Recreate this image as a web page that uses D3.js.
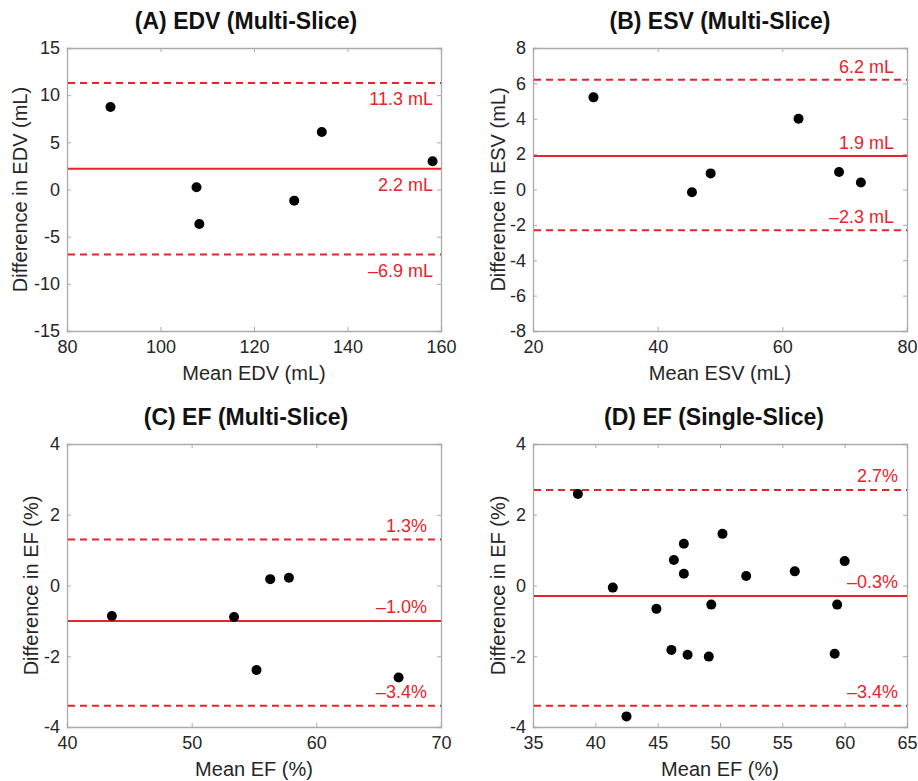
<!DOCTYPE html>
<html lang="en">
	<head>
		<meta charset="utf-8">
		<title>Bland-Altman plots</title>
		<script type="text/javascript" src="https://cdn.jsdelivr.net/npm/d3@7/dist/d3.min.js"></script>
		<style type="text/css">
			body { margin: 0; background: #fff; }
			text { font-family: "Liberation Sans", Arial, sans-serif; }
		</style>
	</head>
	<body>
		<script type="text/javascript">

			// panel A - EDV multi-slice
			var edvMean = [89.3, 107.7, 108.3, 128.6, 134.5, 158.2];
			var edvDiff = [8.75, 0.23, -3.66, -1.18, 6.1, 3.0];
			var edvLines = [11.3, 2.2, -6.9];
			var edvLabels = ["11.3 mL", "2.2 mL", "\u20136.9 mL"];
			var edvXTicks = [80, 100, 120, 140, 160];
			var edvYTicks = [-15, -10, -5, 0, 5, 10, 15];

			// panel B - ESV multi-slice
			var esvMean = [29.7, 45.5, 48.5, 62.6, 69.1, 72.6];
			var esvDiff = [5.21, -0.16, 0.91, 4.0, 0.99, 0.4];
			var esvLines = [6.2, 1.9, -2.3];
			var esvLabels = ["6.2 mL", "1.9 mL", "\u20132.3 mL"];
			var esvXTicks = [20, 40, 60, 80];
			var esvYTicks = [-8, -6, -4, -2, 0, 2, 4, 6, 8];

			// panel C - EF multi-slice
			var efmMean = [43.6, 53.4, 55.2, 56.3, 57.8, 66.6];
			var efmDiff = [-0.86, -0.89, -2.39, 0.18, 0.22, -2.6];
			var efmLines = [1.3, -1.0, -3.4];
			var efmLabels = ["1.3%", "\u20131.0%", "\u20133.4%"];
			var efmXTicks = [40, 50, 60, 70];
			var efmYTicks = [-4, -2, 0, 2, 4];

			// panel D - EF single-slice
			var efsMean = [38.6, 41.4, 42.5, 44.9, 46.1, 46.3, 47.1, 47.1, 47.4, 49.1, 49.3, 50.2, 52.1, 56.0, 59.2, 59.4, 60.0];
			var efsDiff = [2.59, -0.06, -3.7, -0.66, -1.82, 0.72, 1.18, 0.33, -1.96, -2.01, -0.54, 1.46, 0.27, 0.40, -1.93, -0.54, 0.69];
			var efsLines = [2.7, -0.3, -3.4];
			var efsLabels = ["2.7%", "\u20130.3%", "\u20133.4%"];
			var efsXTicks = [35, 40, 45, 50, 55, 60, 65];
			var efsYTicks = [-4, -2, 0, 2, 4];

			var w = 918;
			var h = 781;
			var red = "#e8232b";

			var svg = d3.select("body")
						.append("svg")
						.attr("width", w)
						.attr("height", h);

			var panels = [
				{title: "(A) EDV (Multi-Slice)", xl: "Mean EDV (mL)", yl: "Difference in EDV (mL)",
				 x: edvMean, y: edvDiff, lines: edvLines, labels: edvLabels, xt: edvXTicks, yt: edvYTicks,
				 x0: 67, x1: 441, y0: 48, y1: 331, tx: 246, ylOff: 40, labDy: 22, labR: 8},
				{title: "(B) ESV (Multi-Slice)", xl: "Mean ESV (mL)", yl: "Difference in ESV (mL)",
				 x: esvMean, y: esvDiff, lines: esvLines, labels: esvLabels, xt: esvXTicks, yt: esvYTicks,
				 x0: 533, x1: 907, y0: 48, y1: 331, tx: 720, ylOff: 28, labDy: -7, labR: 13},
				{title: "(C) EF (Multi-Slice)", xl: "Mean EF (%)", yl: "Difference in EF (%)",
				 x: efmMean, y: efmDiff, lines: efmLines, labels: efmLabels, xt: efmXTicks, yt: efmYTicks,
				 x0: 67, x1: 441, y0: 444, y1: 727, tx: 246, ylOff: 29, labDy: -8, labR: 14},
				{title: "(D) EF (Single-Slice)", xl: "Mean EF (%)", yl: "Difference in EF (%)",
				 x: efsMean, y: efsDiff, lines: efsLines, labels: efsLabels, xt: efsXTicks, yt: efsYTicks,
				 x0: 533, x1: 907, y0: 444, y1: 727, tx: 714, ylOff: 28, labDy: -8, labR: 9}
			];

			panels.forEach(function(p) {
				var xs = d3.scaleLinear()
						   .domain(d3.extent(p.xt))
						   .range([p.x0, p.x1]);
				var ys = d3.scaleLinear()
						   .domain(d3.extent(p.yt))
						   .range([p.y1, p.y0]);

				var g = svg.append("g");

				// inward ticks on all four sides, MATLAB style
				var tickLen = 4;
				g.append("g")
				 .attr("transform", "translate(0," + p.y1 + ")")
				 .call(d3.axisBottom(xs).tickValues(p.xt).tickSize(-tickLen).tickPadding(9).tickFormat(d3.format("d")))
				 .call(styleAxis);
				g.append("g")
				 .attr("transform", "translate(0," + p.y0 + ")")
				 .call(d3.axisTop(xs).tickValues(p.xt).tickSize(-tickLen).tickFormat(""))
				 .call(styleAxis);
				g.append("g")
				 .attr("transform", "translate(" + p.x0 + ",0)")
				 .call(d3.axisLeft(ys).tickValues(p.yt).tickSize(-tickLen).tickPadding(7).tickFormat(d3.format("d")))
				 .call(styleAxis);
				g.append("g")
				 .attr("transform", "translate(" + p.x1 + ",0)")
				 .call(d3.axisRight(ys).tickValues(p.yt).tickSize(-tickLen).tickFormat(""))
				 .call(styleAxis);

				// hyphen minus like the original tick labels
				g.selectAll(".tick text").text(function() { return this.textContent.replace("\u2212", "-"); });

				// agreement lines: upper limit, mean, lower limit
				g.selectAll("line.ba")
				 .data(p.lines)
				 .enter()
				 .append("line")
				 .attr("class", "ba")
				 .attr("x1", p.x0 + 1)
				 .attr("x2", p.x1)
				 .attr("y1", function(d) { return ys(d); })
				 .attr("y2", function(d) { return ys(d); })
				 .attr("stroke", red)
				 .attr("stroke-width", 2)
				 .attr("stroke-dasharray", function(d, i) { return i == 1 ? null : "7,5"; });

				g.selectAll("text.ba")
				 .data(p.lines)
				 .enter()
				 .append("text")
				 .attr("class", "ba")
				 .attr("x", p.x1 - p.labR)
				 .attr("y", function(d) { return ys(d) + p.labDy; })
				 .attr("text-anchor", "end")
				 .attr("font-size", "18px")
				 .attr("fill", red)
				 .text(function(d, i) { return p.labels[i]; });

				g.selectAll("circle")
				 .data(p.x)
				 .enter()
				 .append("circle")
				 .attr("cx", function(d) { return xs(d); })
				 .attr("cy", function(d, i) { return ys(p.y[i]); })
				 .attr("r", 5)
				 .attr("fill", "#000");

				g.append("text")
				 .attr("x", p.tx)
				 .attr("y", p.y0 - 19)
				 .attr("text-anchor", "middle")
				 .attr("font-size", "23px")
				 .attr("font-weight", "bold")
				 .attr("fill", "#111")
				 .text(p.title);

				g.append("text")
				 .attr("x", (p.x0 + p.x1) / 2)
				 .attr("y", p.y1 + 49)
				 .attr("text-anchor", "middle")
				 .attr("font-size", "20px")
				 .attr("fill", "#262626")
				 .text(p.xl);

				g.append("text")
				 .attr("transform", "translate(" + (p.x0 - p.ylOff) + "," + ((p.y0 + p.y1) / 2) + ") rotate(-90)")
				 .attr("text-anchor", "middle")
				 .attr("font-size", "20px")
				 .attr("fill", "#262626")
				 .text(p.yl);
			});

			function styleAxis(sel) {
				sel.select(".domain").attr("stroke", "#aaaaaa").attr("stroke-width", 1.3);
				sel.selectAll(".tick line").attr("stroke", "#aaaaaa");
				sel.selectAll(".tick text")
				   .attr("font-size", "18px")
				   .attr("font-family", "'Liberation Sans', Arial, sans-serif")
				   .attr("fill", "#262626");
			}

		</script>
	</body>
</html>
